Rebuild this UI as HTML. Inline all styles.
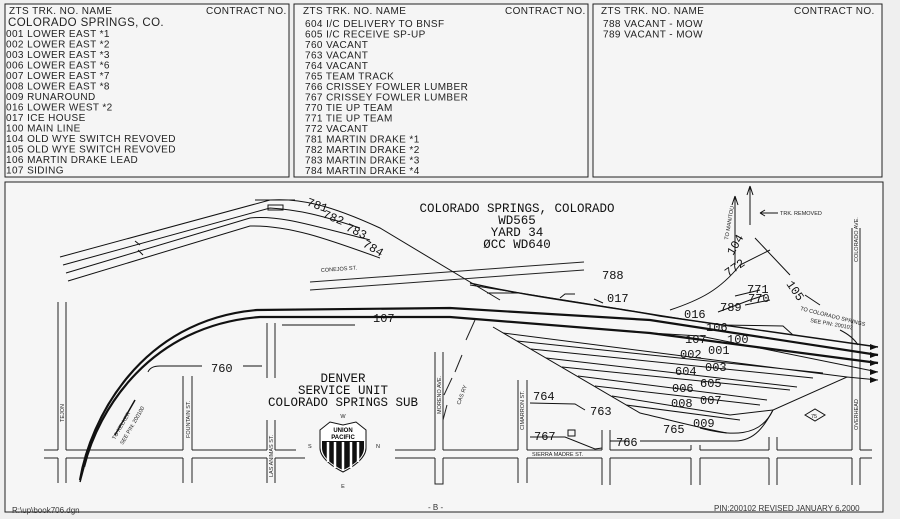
<!DOCTYPE html>
<html><head><meta charset="utf-8"><style>
html,body{margin:0;padding:0;background:#efefef;}
svg{display:block}
.t{font-family:"Liberation Sans",sans-serif;font-size:10px;fill:#222;letter-spacing:0.4px}
.s{font-family:"Liberation Sans",sans-serif;font-size:5.5px;fill:#222}
.m{font-family:"Liberation Mono",monospace;fill:#111}
</style></head><body>
<svg width="900" height="519" viewBox="0 0 900 519" xmlns="http://www.w3.org/2000/svg">
<rect width="900" height="519" fill="#efefef"/>
<g fill="none" stroke="#222" stroke-width="1">
<rect x="5" y="4" width="284" height="173" fill="#f5f5f5"/>
<rect x="294" y="4" width="294" height="173" fill="#f5f5f5"/>
<rect x="593" y="4" width="289" height="173" fill="#f5f5f5"/>
<rect x="5" y="182" width="878" height="330" fill="#f6f6f6"/>
</g>
<g class="t">
<text x="9" y="14">ZTS TRK. NO. NAME</text><text x="206" y="14">CONTRACT NO.</text>
<text x="8" y="26" style="font-size:11.5px">COLORADO SPRINGS, CO.</text>
<text x="6" y="37">001 LOWER EAST *1</text>
<text x="6" y="47.5">002 LOWER EAST *2</text>
<text x="6" y="58">003 LOWER EAST *3</text>
<text x="6" y="68.5">006 LOWER EAST *6</text>
<text x="6" y="79">007 LOWER EAST *7</text>
<text x="6" y="89.5">008 LOWER EAST *8</text>
<text x="6" y="100">009 RUNAROUND</text>
<text x="6" y="110.5">016 LOWER WEST *2</text>
<text x="6" y="121">017 ICE HOUSE</text>
<text x="6" y="131.5">100 MAIN LINE</text>
<text x="6" y="142">104 OLD WYE SWITCH REVOVED</text>
<text x="6" y="152.5">105 OLD WYE SWITCH REVOVED</text>
<text x="6" y="163">106 MARTIN DRAKE LEAD</text>
<text x="6" y="173.5">107 SIDING</text>
<text x="303" y="14">ZTS TRK. NO. NAME</text><text x="505" y="14">CONTRACT NO.</text>
<text x="305" y="27">604 I/C DELIVERY TO BNSF</text>
<text x="305" y="37.5">605 I/C RECEIVE SP-UP</text>
<text x="305" y="48">760 VACANT</text>
<text x="305" y="58.5">763 VACANT</text>
<text x="305" y="69">764 VACANT</text>
<text x="305" y="79.5">765 TEAM TRACK</text>
<text x="305" y="90">766 CRISSEY FOWLER LUMBER</text>
<text x="305" y="100.5">767 CRISSEY FOWLER LUMBER</text>
<text x="305" y="111">770 TIE UP TEAM</text>
<text x="305" y="121.5">771 TIE UP TEAM</text>
<text x="305" y="132">772 VACANT</text>
<text x="305" y="142.5">781 MARTIN DRAKE *1</text>
<text x="305" y="153">782 MARTIN DRAKE *2</text>
<text x="305" y="163.5">783 MARTIN DRAKE *3</text>
<text x="305" y="174">784 MARTIN DRAKE *4</text>
<text x="601" y="14">ZTS TRK. NO. NAME</text><text x="794" y="14">CONTRACT NO.</text>
<text x="603" y="27">788 VACANT - MOW</text>
<text x="603" y="37.5">789 VACANT - MOW</text>
</g>
<!-- streets -->
<g stroke="#222" stroke-width="1" fill="none">
<path d="M44 450H58M66 450H183M192 450H267M275 450H296M395 450H435M443 450H518M527 450H602M610 450H691M700 450H769M777 450H852M860 450H872"/>
<path d="M44 458H58M66 458H183M192 458H267M275 458H305M395 458H435M443 458H518M527 458H602M610 458H691M700 458H769M777 458H852M860 458H872"/>
<path d="M58 302V450M66 302V450M58 458V483M66 458V483"/>
<path d="M183 376V450M192 376V450M183 458V483M192 458V483"/>
<path d="M267 323V378M275 323V378M267 420V450M275 420V450M267 458V483M275 458V483"/>
<path d="M435 352V450M443 352V450M435 458V484H443V458"/>
<path d="M518 380V450M527 380V450M518 458V483M527 458V483"/>
<path d="M602 430V450M610 430V450M602 458V485M610 458V485"/>
<path d="M691 445V450M700 445V450M691 458V485M700 458V485"/>
<path d="M769 437V450M777 437V450M769 458V485M777 458V485"/>
<path d="M852 228V450M860 228V450M852 458V485M860 458V485"/>
<path d="M310 282L584 262M310 290L584 270"/>
<path d="M466 340L475 320M455 372L462 355M444 395L452 378M443 420L447 405"/>
</g>
<!-- tracks -->
<g stroke="#111" fill="none">
<path d="M80 480C90 420 140 320 257 310L450 308L650 320L878 355" stroke-width="2.2"/>
<path d="M84 467C98 410 150 325 260 317L450 317L650 333L878 363" stroke-width="2.2"/>
<path d="M80 482L84 467" stroke-width="1.5"/>
<path d="M148 372C150 367 155 366 160 366H202M243 366H262" stroke-width="1"/>
<path d="M282 325H355" stroke-width="1"/>
<path d="M470 283C530 297 600 305 660 316L878 347" stroke-width="1.4"/>
<path d="M650 333L700 336L878 372" stroke-width="1"/>
<path d="M493 327L640 413C670 420 700 428 727 433"/>
<path d="M640 441H735C755 441 765 425 773 410L847 377L878 380"/>
<path d="M503 333L847 377M517 341L823 373M531 349L813 378M546 358L797 387M562 367L790 390M578 376L767 400M595 386L760 405M612 396L730 415L773 410M626 405L740 420"/>
<path d="M700 428C730 436 760 438 773 410"/>
<path d="M470 285L720 325L783 326L793 335"/>
<path d="M487 293H520M560 298L565 294H575M594 299L603 303"/>
<path d="M60 257L270 200C300 198 330 205 380 228L500 300M63 265L270 208C300 210 320 215 360 228M66 273L250 218C280 215 310 225 370 240M68 281L250 226C290 225 330 240 380 258"/>
<path d="M255 200L295 200M268 205H283V210H268Z"/>
<path d="M135 241L140 245M138 250L143 255"/>
<path d="M670 310C700 300 720 290 740 265L770 250" />
<path d="M735 296L760 290M718 312L750 300L765 295M745 305L770 300"/>
<path d="M735 265L735 196M735 196L732 205M735 196L738 205M750 225L750 186M750 186L747 195M750 186L753 195"/>
<path d="M755 238L790 275M805 295L820 305"/>
<path d="M760 213H778M760 213L765 210M760 213L765 216"/>
<path d="M840 330C850 335 855 340 858 345"/>
<path d="M568 430H575V436H568Z"/>
<path d="M530 403L575 404L585 410M530 437H565L595 449L602 448M610 441H630"/>
<path d="M805 415L815 409L825 415L815 421Z"/>
<path d="M115 435L135 400" stroke-width="1.5"/>
</g>
<g fill="#111">
<path d="M878 347L870 344V350ZM878 355L870 352V358ZM878 363L870 360V366ZM878 372L870 369V375ZM878 380L870 377V383Z"/>
</g>
<g class="m" font-size="12.5" text-anchor="middle">
<text x="517" y="212">COLORADO SPRINGS, COLORADO</text>
<text x="517" y="224">WD565</text>
<text x="517" y="236">YARD 34</text>
<text x="517" y="248">ØCC WD640</text>
<text x="343" y="382">DENVER</text>
<text x="343" y="394">SERVICE UNIT</text>
<text x="343" y="406">COLORADO SPRINGS SUB</text>
</g>
<g class="m" font-size="12">
<text x="373" y="322">107</text><text x="211" y="372">760</text>
<text x="602" y="279">788</text><text x="607" y="302">017</text>
<text x="684" y="318">016</text><text x="706" y="331">106</text>
<text x="685" y="343">107</text><text x="727" y="343">100</text>
<text x="708" y="354">001</text><text x="680" y="358">002</text>
<text x="705" y="371">003</text><text x="675" y="375">604</text>
<text x="700" y="387">605</text><text x="672" y="392">006</text>
<text x="700" y="404">007</text><text x="671" y="407">008</text>
<text x="693" y="427">009</text><text x="663" y="433">765</text>
<text x="590" y="415">763</text><text x="533" y="400">764</text>
<text x="534" y="440">767</text><text x="616" y="446">766</text>
<text x="720" y="311">789</text><text x="748" y="302">770</text>
<text x="747" y="293">771</text>
<text transform="translate(728,277) rotate(-35)">772</text>
<text transform="translate(733,256) rotate(-60)">104</text>
<text transform="translate(786,284) rotate(55)">105</text>
<text transform="translate(306,205) rotate(20)">781</text>
<text transform="translate(322,217) rotate(22)">782</text>
<text transform="translate(345,230) rotate(25)">783</text>
<text transform="translate(362,246) rotate(30)">784</text>
</g>
<g class="s">
<text x="321" y="272" transform="rotate(-4 321 272)">CONEJOS ST.</text>
<text x="780" y="215">TRK. REMOVED</text>
<text transform="translate(800,310) rotate(14)">TO COLORADO SPRINGS</text>
<text transform="translate(810,322) rotate(10)">SEE PIN: 200103</text>
<text transform="translate(728,240) rotate(-80)">TO MANITOU</text>
<text transform="translate(858,262) rotate(-90)">COLORADO AVE.</text>
<text transform="translate(858,430) rotate(-90)">OVERHEAD</text>
<text transform="translate(64,422) rotate(-90)">TEJON</text>
<text transform="translate(190,438) rotate(-90)">FOUNTAIN ST.</text>
<text transform="translate(273,477) rotate(-90)">LAS ANIMAS ST.</text>
<text transform="translate(441,414) rotate(-90)">MORENO AVE.</text>
<text transform="translate(524,430) rotate(-90)">CIMARRON ST.</text>
<text transform="translate(460,405) rotate(-70)">CAS RY</text>
<text x="532" y="456">SIERRA MADRE ST.</text>
<text transform="translate(115,440) rotate(-60)">TO KELKER</text>
<text transform="translate(123,445) rotate(-60)">SEE PIN: 200100</text>
<text x="811" y="418">75</text>
</g>
<!-- UP shield -->
<g>
<path d="M320 430L330 422L343 425L356 422L366 430L366 448C366 458 353 467 343 472C333 467 320 458 320 448Z" fill="#fff" stroke="#111"/>
<path d="M322 441H364V448C364 458 352 466 343 470C334 466 322 458 322 448Z" fill="#111"/>
<g stroke="#fff" stroke-width="2.5"><path d="M328 442V462M335 442V468M343 442V470M351 442V468M358 442V462"/></g>
<text x="343" y="432" text-anchor="middle" font-family="Liberation Sans" font-weight="bold" font-size="6">UNION</text>
<text x="343" y="439" text-anchor="middle" font-family="Liberation Sans" font-weight="bold" font-size="6">PACIFIC</text>
<text x="343" y="418" text-anchor="middle" class="s">W</text>
<text x="343" y="488" text-anchor="middle" class="s">E</text>
<text x="308" y="448" class="s">S</text>
<text x="376" y="448" class="s">N</text>
</g>
<text x="12" y="513" font-family="Liberation Sans" font-size="8" fill="#333">R:\up\book706.dgn</text>
<text x="428" y="510" font-family="Liberation Sans" font-size="8" fill="#333">-  B  -</text>
<text x="714" y="511" font-family="Liberation Sans" font-size="8" fill="#333">PIN:200102 REVISED JANUARY  6,2000</text>
</svg>
</body></html>
